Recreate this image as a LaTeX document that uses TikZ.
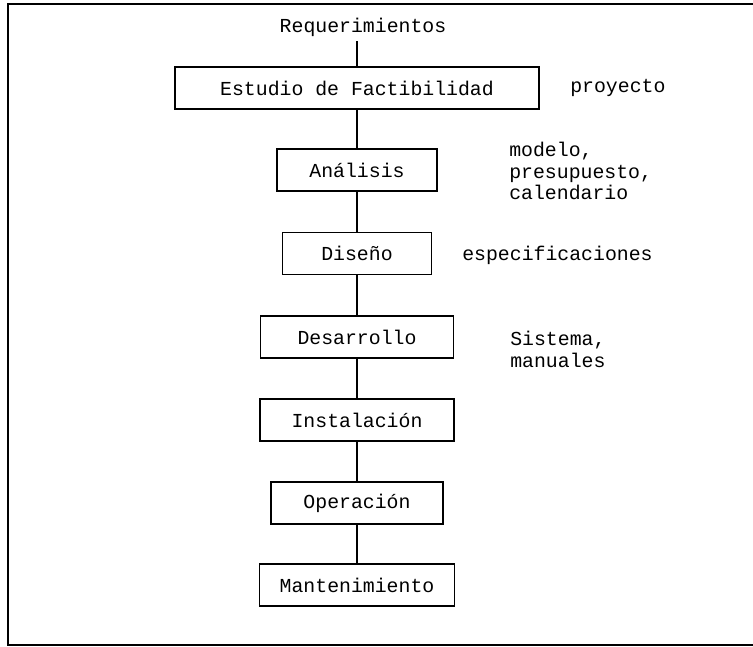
\documentclass[tikz,border=0pt]{standalone}
\usepackage{fontspec}
\setmonofont{Liberation Mono}

\begin{document}
\begin{tikzpicture}[scale=0.5]
			\tikzstyle{every node}=[font=\ttfamily\fontsize{14.1}{15.6}\selectfont]
			\tikzstyle{etapa}=[draw, line width=1.1pt, minimum height=1.05cm, inner sep=0pt]
			\tikzstyle{salida}=[anchor=west, align=left, inner sep=0pt]
			\useasboundingbox (0,0) rectangle (37.65,32.35);
			% marco
			\draw [line width=1.1pt] (37.65,32.15) -- (0.4,32.15) -- (0.4,0.1) -- (37.65,0.1);
			\node (req) at (18.15,31) {Requerimientos};
			\node [etapa, minimum width=9.1cm] (estudio) at (17.85,27.95) {Estudio de Factibilidad};
			\node [etapa, minimum width=4cm] (analisis) at (17.85,23.85) {Análisis};
			\node [etapa, minimum width=3.725cm] (diseno) at (17.85,19.675) {Diseño};
			\node [etapa, minimum width=4.825cm] (desarrollo) at (17.85,15.5) {Desarrollo};
			\node [etapa, minimum width=4.85cm] (instalacion) at (17.85,11.35) {Instalación};
			\node [etapa, minimum width=4.3cm] (operacion) at (17.85,7.2) {Operación};
			\node [etapa, minimum width=4.875cm] (mantenimiento) at (17.85,3.1) {Mantenimiento};
			\node [salida] (proyecto) at (28.5,27.95) {proyecto};
			\node [salida] (modelo) at (25.45,23.8) {modelo,\\presupuesto,\\calendario};
			\node [salida] (especif) at (23.1,19.6) {especificaciones};
			\node [salida] (sistema) at (25.5,14.875) {Sistema,\\manuales};
			\draw [line width=1.1pt] (req.south -| estudio.north) -- (estudio.north);
			\draw [line width=1.1pt] (estudio) -- (analisis);
			\draw [line width=1.1pt] (analisis) -- (diseno);
			\draw [line width=1.1pt] (diseno) -- (desarrollo);
			\draw [line width=1.1pt] (desarrollo) -- (instalacion);
			\draw [line width=1.1pt] (instalacion) -- (operacion);
			\draw [line width=1.1pt] (operacion) -- (mantenimiento);
		\end{tikzpicture}
\end{document}
